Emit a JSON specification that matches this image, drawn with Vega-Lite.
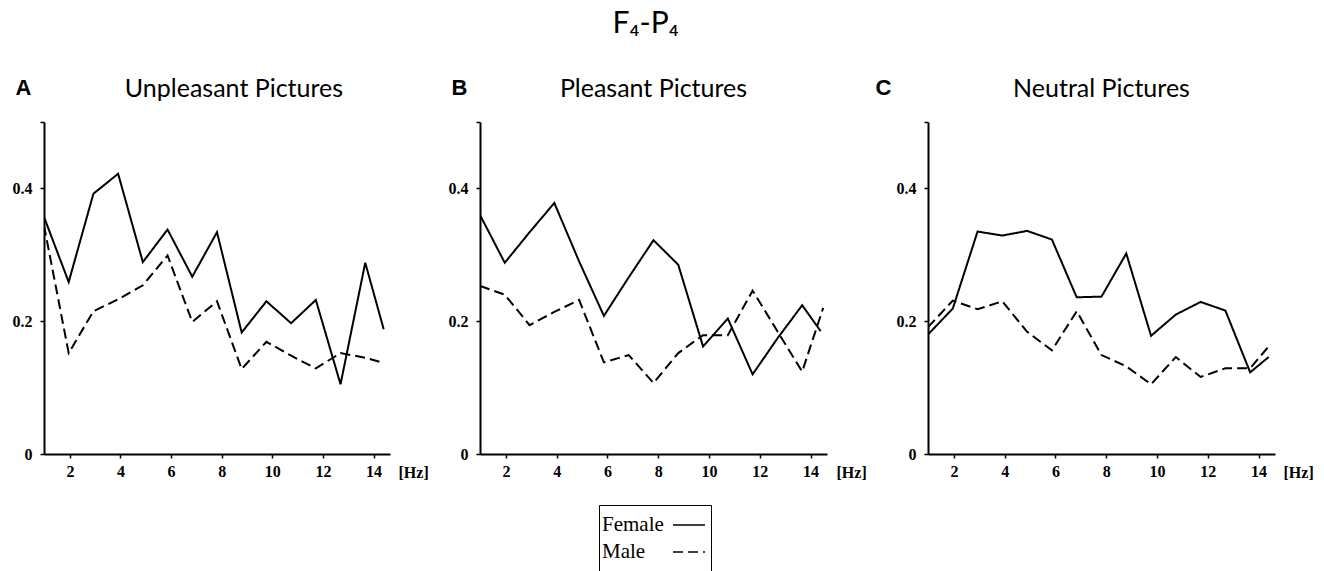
{
  "$schema": "https://vega.github.io/schema/vega-lite/v6.json",
  "background": "white",
  "padding": {"left": 12, "top": 9, "right": 5, "bottom": 0},
  "title": {"text": "F₄-P₄", "font": "Lato", "fontWeight": "normal", "fontSize": 30, "color": "black", "anchor": "middle", "frame": "bounds", "dx": -17, "baseline": "alphabetic", "offset": 13},
  "datasets": {
    "eeg": [
      {"panel": "A", "sex": "Female", "hz": 0.977, "value": 0.357},
      {"panel": "A", "sex": "Female", "hz": 1.953, "value": 0.259},
      {"panel": "A", "sex": "Female", "hz": 2.930, "value": 0.392},
      {"panel": "A", "sex": "Female", "hz": 3.906, "value": 0.422},
      {"panel": "A", "sex": "Female", "hz": 4.883, "value": 0.289},
      {"panel": "A", "sex": "Female", "hz": 5.859, "value": 0.338},
      {"panel": "A", "sex": "Female", "hz": 6.836, "value": 0.267},
      {"panel": "A", "sex": "Female", "hz": 7.813, "value": 0.334},
      {"panel": "A", "sex": "Female", "hz": 8.789, "value": 0.183},
      {"panel": "A", "sex": "Female", "hz": 9.766, "value": 0.230},
      {"panel": "A", "sex": "Female", "hz": 10.742, "value": 0.197},
      {"panel": "A", "sex": "Female", "hz": 11.719, "value": 0.232},
      {"panel": "A", "sex": "Female", "hz": 12.695, "value": 0.105},
      {"panel": "A", "sex": "Female", "hz": 13.672, "value": 0.288},
      {"panel": "A", "sex": "Female", "hz": 14.4, "value": 0.188},
      {"panel": "A", "sex": "Male", "hz": 0.977, "value": 0.344},
      {"panel": "A", "sex": "Male", "hz": 1.953, "value": 0.152},
      {"panel": "A", "sex": "Male", "hz": 2.930, "value": 0.215},
      {"panel": "A", "sex": "Male", "hz": 3.906, "value": 0.233},
      {"panel": "A", "sex": "Male", "hz": 4.883, "value": 0.254},
      {"panel": "A", "sex": "Male", "hz": 5.859, "value": 0.299},
      {"panel": "A", "sex": "Male", "hz": 6.836, "value": 0.199},
      {"panel": "A", "sex": "Male", "hz": 7.813, "value": 0.230},
      {"panel": "A", "sex": "Male", "hz": 8.789, "value": 0.128},
      {"panel": "A", "sex": "Male", "hz": 9.766, "value": 0.169},
      {"panel": "A", "sex": "Male", "hz": 10.742, "value": 0.148},
      {"panel": "A", "sex": "Male", "hz": 11.719, "value": 0.129},
      {"panel": "A", "sex": "Male", "hz": 12.695, "value": 0.152},
      {"panel": "A", "sex": "Male", "hz": 13.672, "value": 0.145},
      {"panel": "A", "sex": "Male", "hz": 14.4, "value": 0.137},
      {"panel": "B", "sex": "Female", "hz": 0.977, "value": 0.360},
      {"panel": "B", "sex": "Female", "hz": 1.953, "value": 0.288},
      {"panel": "B", "sex": "Female", "hz": 2.930, "value": 0.334},
      {"panel": "B", "sex": "Female", "hz": 3.906, "value": 0.378},
      {"panel": "B", "sex": "Female", "hz": 4.883, "value": 0.290},
      {"panel": "B", "sex": "Female", "hz": 5.859, "value": 0.208},
      {"panel": "B", "sex": "Female", "hz": 6.836, "value": 0.266},
      {"panel": "B", "sex": "Female", "hz": 7.813, "value": 0.322},
      {"panel": "B", "sex": "Female", "hz": 8.789, "value": 0.285},
      {"panel": "B", "sex": "Female", "hz": 9.766, "value": 0.162},
      {"panel": "B", "sex": "Female", "hz": 10.742, "value": 0.204},
      {"panel": "B", "sex": "Female", "hz": 11.719, "value": 0.120},
      {"panel": "B", "sex": "Female", "hz": 12.695, "value": 0.174},
      {"panel": "B", "sex": "Female", "hz": 13.672, "value": 0.224},
      {"panel": "B", "sex": "Female", "hz": 14.4, "value": 0.185},
      {"panel": "B", "sex": "Male", "hz": 0.977, "value": 0.253},
      {"panel": "B", "sex": "Male", "hz": 1.953, "value": 0.240},
      {"panel": "B", "sex": "Male", "hz": 2.930, "value": 0.194},
      {"panel": "B", "sex": "Male", "hz": 3.906, "value": 0.214},
      {"panel": "B", "sex": "Male", "hz": 4.883, "value": 0.232},
      {"panel": "B", "sex": "Male", "hz": 5.859, "value": 0.138},
      {"panel": "B", "sex": "Male", "hz": 6.836, "value": 0.149},
      {"panel": "B", "sex": "Male", "hz": 7.813, "value": 0.107},
      {"panel": "B", "sex": "Male", "hz": 8.789, "value": 0.152},
      {"panel": "B", "sex": "Male", "hz": 9.766, "value": 0.179},
      {"panel": "B", "sex": "Male", "hz": 10.742, "value": 0.179},
      {"panel": "B", "sex": "Male", "hz": 11.719, "value": 0.246},
      {"panel": "B", "sex": "Male", "hz": 12.695, "value": 0.185},
      {"panel": "B", "sex": "Male", "hz": 13.672, "value": 0.124},
      {"panel": "B", "sex": "Male", "hz": 14.5, "value": 0.220},
      {"panel": "C", "sex": "Female", "hz": 0.977, "value": 0.180},
      {"panel": "C", "sex": "Female", "hz": 1.953, "value": 0.219},
      {"panel": "C", "sex": "Female", "hz": 2.930, "value": 0.335},
      {"panel": "C", "sex": "Female", "hz": 3.906, "value": 0.329},
      {"panel": "C", "sex": "Female", "hz": 4.883, "value": 0.336},
      {"panel": "C", "sex": "Female", "hz": 5.859, "value": 0.323},
      {"panel": "C", "sex": "Female", "hz": 6.836, "value": 0.236},
      {"panel": "C", "sex": "Female", "hz": 7.813, "value": 0.237},
      {"panel": "C", "sex": "Female", "hz": 8.789, "value": 0.302},
      {"panel": "C", "sex": "Female", "hz": 9.766, "value": 0.178},
      {"panel": "C", "sex": "Female", "hz": 10.742, "value": 0.210},
      {"panel": "C", "sex": "Female", "hz": 11.719, "value": 0.229},
      {"panel": "C", "sex": "Female", "hz": 12.695, "value": 0.216},
      {"panel": "C", "sex": "Female", "hz": 13.672, "value": 0.123},
      {"panel": "C", "sex": "Female", "hz": 14.4, "value": 0.146},
      {"panel": "C", "sex": "Male", "hz": 0.977, "value": 0.191},
      {"panel": "C", "sex": "Male", "hz": 1.953, "value": 0.231},
      {"panel": "C", "sex": "Male", "hz": 2.930, "value": 0.218},
      {"panel": "C", "sex": "Male", "hz": 3.906, "value": 0.230},
      {"panel": "C", "sex": "Male", "hz": 4.883, "value": 0.184},
      {"panel": "C", "sex": "Male", "hz": 5.859, "value": 0.156},
      {"panel": "C", "sex": "Male", "hz": 6.836, "value": 0.215},
      {"panel": "C", "sex": "Male", "hz": 7.813, "value": 0.149},
      {"panel": "C", "sex": "Male", "hz": 8.789, "value": 0.132},
      {"panel": "C", "sex": "Male", "hz": 9.766, "value": 0.105},
      {"panel": "C", "sex": "Male", "hz": 10.742, "value": 0.146},
      {"panel": "C", "sex": "Male", "hz": 11.719, "value": 0.116},
      {"panel": "C", "sex": "Male", "hz": 12.695, "value": 0.129},
      {"panel": "C", "sex": "Male", "hz": 13.672, "value": 0.129},
      {"panel": "C", "sex": "Male", "hz": 14.4, "value": 0.162}
    ]
  },
  "config": {
    "view": {"stroke": null},
    "title": {"font": "Lato", "fontWeight": "normal", "fontSize": 25, "color": "black", "anchor": "middle", "baseline": "alphabetic", "offset": -26},
    "axis": {
      "grid": false,
      "domainColor": "black",
      "domainWidth": 2,
      "tickColor": "black",
      "tickWidth": 1.5,
      "tickSize": 4,
      "labelFont": "Liberation Serif",
      "labelFontWeight": "bold",
      "labelFontSize": 16,
      "labelColor": "black",
      "titleColor": "black"
    },
    "axisX": {"labelPadding": 5},
    "axisY": {"labelPadding": 8},
    "legend": {
      "orient": "none",
      "legendX": 555,
      "legendY": 383,
      "strokeColor": "black",
      "strokeWidth": 1,
      "padding": 3,
      "labelFont": "Liberation Serif",
      "labelFontSize": 21,
      "labelColor": "black",
      "symbolType": "stroke",
      "symbolSize": 1024,
      "symbolStrokeWidth": 1.5,
      "symbolStrokeColor": "black",
      "labelOffset": -104,
      "symbolOffset": 70,
      "rowPadding": -7,
      "titleOrient": "bottom",
      "titleFontSize": 20,
      "titleFont": "Liberation Serif"
    }
  },
  "spacing": 90,
  "bounds": "flush",
  "hconcat": [
    {
      "width": 346,
      "height": 332,
      "title": {"text": "Unpleasant Pictures", "dx": 17},
      "data": {"name": "eeg"},
      "transform": [{"filter": "datum.panel === 'A'"}],
      "mark": {"type": "line", "color": "black", "strokeWidth": 2, "clip": true},
      "encoding": {
        "x": {"field": "hz", "type": "quantitative", "scale": {"domain": [0.977, 14.65], "nice": false, "zero": false},
          "axis": {"values": [2, 4, 6, 8, 10, 12, 14], "title": "[Hz]", "titleFont": "Liberation Serif", "titleFontWeight": "bold", "titleFontSize": 16, "titleAlign": "left", "titleBaseline": "alphabetic", "titleX": 354, "titleY": 23}},
        "y": {"field": "value", "type": "quantitative", "scale": {"domain": [0, 0.5], "nice": false},
          "axis": {"values": [0, 0.2, 0.4, 0.5], "labelExpr": "datum.value === 0 ? '0' : datum.value === 0.5 ? '' : format(datum.value, '.1f')", "title": "A", "titleAngle": 0, "titleFont": "Liberation Sans", "titleFontWeight": "bold", "titleFontSize": 22, "titleAlign": "left", "titleBaseline": "alphabetic", "titleX": -29, "titleY": -28}},
        "strokeDash": {"field": "sex", "type": "nominal", "scale": {"domain": ["Female", "Male"], "range": [[1, 0], [10, 5]]},
          "legend": {"title": " ", "symbolDash": [1.5, 1.5]}}
      }
    },
    {
      "spacing": 101,
      "bounds": "flush",
      "hconcat": [
        {
          "width": 347,
          "height": 332,
          "title": {"text": "Pleasant Pictures"},
          "data": {"name": "eeg"},
          "transform": [{"filter": "datum.panel === 'B'"}],
          "mark": {"type": "line", "color": "black", "strokeWidth": 2, "clip": true},
          "encoding": {
            "x": {"field": "hz", "type": "quantitative", "scale": {"domain": [0.977, 14.65], "nice": false, "zero": false},
              "axis": {"values": [2, 4, 6, 8, 10, 12, 14], "title": "[Hz]", "titleFont": "Liberation Serif", "titleFontWeight": "bold", "titleFontSize": 16, "titleAlign": "left", "titleBaseline": "alphabetic", "titleX": 356, "titleY": 23}},
            "y": {"field": "value", "type": "quantitative", "scale": {"domain": [0, 0.5], "nice": false},
              "axis": {"values": [0, 0.2, 0.4, 0.5], "labelExpr": "datum.value === 0 ? '0' : datum.value === 0.5 ? '' : format(datum.value, '.1f')", "title": "B", "titleAngle": 0, "titleFont": "Liberation Sans", "titleFontWeight": "bold", "titleFontSize": 22, "titleAlign": "left", "titleBaseline": "alphabetic", "titleX": -29, "titleY": -28}},
            "strokeDash": {"field": "sex", "type": "nominal", "scale": {"domain": ["Female", "Male"], "range": [[1, 0], [10, 5]]},
              "legend": {"title": " "}}
          }
        },
        {
          "width": 347,
          "height": 332,
          "title": {"text": "Neutral Pictures"},
          "data": {"name": "eeg"},
          "transform": [{"filter": "datum.panel === 'C'"}],
          "mark": {"type": "line", "color": "black", "strokeWidth": 2, "clip": true},
          "encoding": {
            "x": {"field": "hz", "type": "quantitative", "scale": {"domain": [0.977, 14.65], "nice": false, "zero": false},
              "axis": {"values": [2, 4, 6, 8, 10, 12, 14], "title": "[Hz]", "titleFont": "Liberation Serif", "titleFontWeight": "bold", "titleFontSize": 16, "titleAlign": "left", "titleBaseline": "alphabetic", "titleX": 355, "titleY": 23}},
            "y": {"field": "value", "type": "quantitative", "scale": {"domain": [0, 0.5], "nice": false},
              "axis": {"values": [0, 0.2, 0.4, 0.5], "labelExpr": "datum.value === 0 ? '0' : datum.value === 0.5 ? '' : format(datum.value, '.1f')", "title": "C", "titleAngle": 0, "titleFont": "Liberation Sans", "titleFontWeight": "bold", "titleFontSize": 22, "titleAlign": "left", "titleBaseline": "alphabetic", "titleX": -53, "titleY": -28}},
            "strokeDash": {"field": "sex", "type": "nominal", "scale": {"domain": ["Female", "Male"], "range": [[1, 0], [10, 5]]},
              "legend": {"title": " "}}
          }
        }
      ]
    }
  ]
}
